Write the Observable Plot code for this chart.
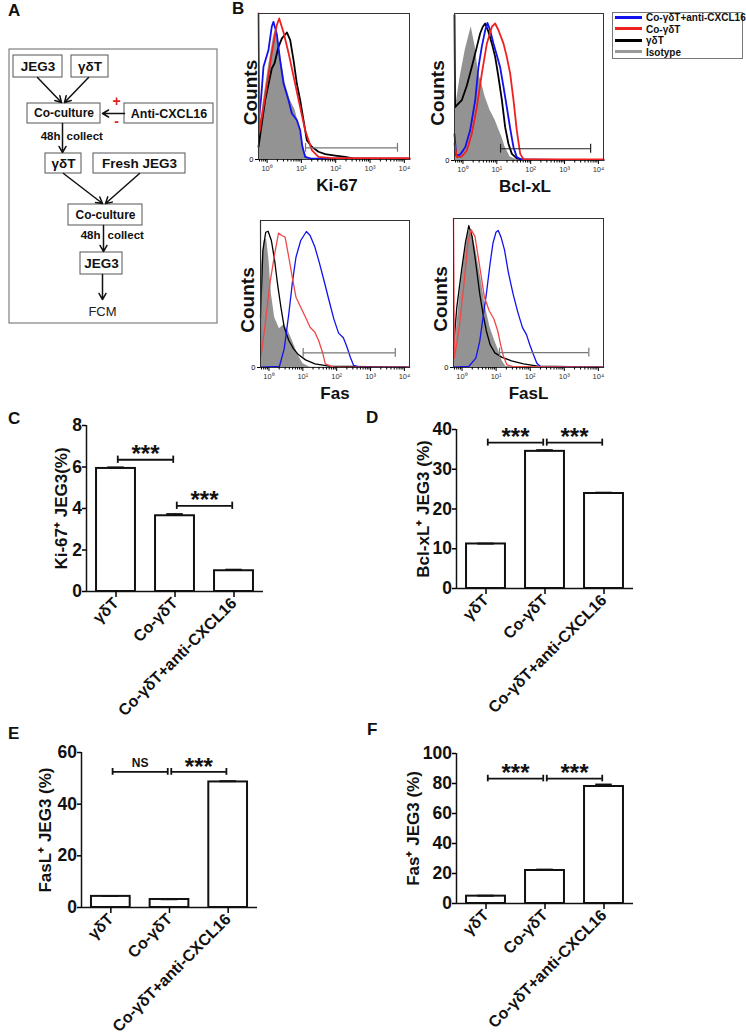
<!DOCTYPE html>
<html><head><meta charset="utf-8">
<script src="https://cdn.jsdelivr.net/npm/d3@7"></script>
<script src="https://cdn.jsdelivr.net/npm/@observablehq/plot@0.6"></script>
<style>
body{margin:0;background:#fff;}
#page{position:relative;width:746px;height:1036px;overflow:hidden;font-family:"Liberation Sans",Arial,sans-serif;background:#fff;}
.panel{position:absolute;}
.letter{position:absolute;font:bold 17px/1 "Liberation Sans",Arial,sans-serif;color:#111;}
#legend{position:absolute;left:612px;top:12px;width:129px;height:45px;border:1px solid #777;background:#fff;}
.lg{position:absolute;left:2px;font:bold 10px/1 "Liberation Sans",Arial,sans-serif;color:#111;white-space:nowrap;}
.sw{display:inline-block;width:27px;height:3px;vertical-align:middle;margin-right:4px;position:relative;top:-1px;}
</style></head>
<body><div id="page"></div>
<script>
const FONT = "Liberation Sans, Arial, sans-serif";
const RED = "#ee2020", RED2 = "#f04848", BLUE = "#1212ee", GRAYF = "#939393";

// ---------- bar chart data ----------
const groups = ["γδT", "Co-γδT", "Co-γδT+anti-CXCL16"];
const ki67Vals = [5.93, 3.65, 1.0],  ki67Err = [0.05, 0.08, 0.05];
const bclVals  = [11.2, 34.5, 23.9], bclErr  = [0.1, 0.3, 0.2];
const faslVals = [4.3, 3.1, 48.6],   faslErr = [0.15, 0.1, 0.3];
const fasVals  = [4.9, 22.0, 78.0],  fasErr  = [0.3, 0.6, 1.3];
const ki67Ticks = [0, 2, 4, 6, 8], bclTicks = [0, 10, 20, 30, 40], faslTicks = [0, 20, 40, 60], fasTicks = [0, 20, 40, 60, 80, 100];
const ki67Comps = [{a: 0, b: 1, y: 6.35, t: "***"}, {a: 1, b: 2, y: 4.13, t: "***"}];
const bclComps  = [{a: 0, b: 1, y: 36.7, t: "***"}, {a: 1, b: 2, y: 36.7, t: "***"}];
const faslComps = [{a: 0, b: 1, y: 52.5, t: "NS"},  {a: 1, b: 2, y: 52.5, t: "***"}];
const fasComps  = [{a: 0, b: 1, y: 83.3, t: "***"}, {a: 1, b: 2, y: 83.3, t: "***"}];

// ---------- flow cytometry histograms: [axis position 0..1, % of max] ----------
const ki67Gray  = [[0,0],[0.004,18],[0.033,40.6],[0.066,63.5],[0.099,84],[0.11,88.6],[0.132,79.5],[0.155,65.8],[0.177,52],[0.21,40.6],[0.243,33.8],[0.265,24.7],[0.287,13.2],[0.309,4.1],[0.331,0.5],[1,0]];
const ki67Black = [[0,8.7],[0.044,40.6],[0.088,62.3],[0.106,65.8],[0.132,77],[0.155,83],[0.188,87],[0.21,81.7],[0.232,68],[0.254,52],[0.276,40.6],[0.298,27],[0.32,13.2],[0.353,8.7],[0.397,5.3],[0.442,3.7],[0.508,2.7],[0.574,1.8],[0.64,0.5],[1,0.2]];
const ki67Blue  = [[0.005,30],[0.018,43],[0.033,63.5],[0.066,75],[0.088,91],[0.099,94.3],[0.121,86],[0.143,68],[0.166,52],[0.199,40.6],[0.221,31.5],[0.254,27],[0.276,20],[0.291,8.7],[0.309,1.8],[0.353,0.5],[1,0.5]];
const ki67Red   = [[0,100],[0.007,19],[0.044,43],[0.088,73],[0.121,92],[0.137,96.6],[0.166,87],[0.199,73],[0.232,57],[0.265,41],[0.309,20],[0.353,6.4],[0.397,1.8],[0.486,0.9],[1,0.9]];

const bclGray  = [[0,0],[0.004,34],[0.038,56.8],[0.072,75],[0.112,91],[0.139,77.3],[0.161,59],[0.183,52.3],[0.206,43.2],[0.239,34],[0.273,27.3],[0.295,21.6],[0.318,16],[0.34,9],[0.374,2.3],[0.418,0.5],[1,0]];
const bclBlack = [[0,98.9],[0.004,36.4],[0.049,41],[0.083,51],[0.116,63.6],[0.15,77.3],[0.172,86.4],[0.19,91],[0.206,93.2],[0.228,87.5],[0.251,79.5],[0.273,70.5],[0.295,56.8],[0.318,41],[0.34,22.7],[0.362,11.4],[0.385,4.5],[0.418,1.4],[0.463,0.5],[1,0.2]];
const bclBlue  = [[0,18],[0.011,3.4],[0.038,4],[0.072,9],[0.105,20.5],[0.139,41],[0.161,63.6],[0.183,77.3],[0.206,88.6],[0.221,93.6],[0.239,88.6],[0.262,79.5],[0.284,71.6],[0.306,63.6],[0.329,50],[0.351,36.4],[0.374,21.6],[0.396,9],[0.418,2.3],[0.452,0.5],[1,0.2]];
const bclRed   = [[0,11.4],[0.016,2.3],[0.049,2.7],[0.083,6.8],[0.116,18.2],[0.15,36.4],[0.183,59],[0.217,79.5],[0.251,91],[0.273,93.2],[0.295,88.6],[0.329,79.5],[0.351,70.5],[0.374,59],[0.396,41],[0.418,20.5],[0.441,4.5],[0.463,0.9],[1,0.7]];

const fasGray  = [[0,0],[0.006,68],[0.025,86.4],[0.041,87.5],[0.057,72.8],[0.073,50],[0.095,34],[0.127,26.3],[0.159,29.3],[0.19,24],[0.222,16.1],[0.254,8.2],[0.286,2.5],[0.333,0.2],[1,0]];
const fasBlack = [[0,34],[0.016,79.6],[0.035,92],[0.051,92.7],[0.073,86.4],[0.095,72.8],[0.114,57],[0.137,41],[0.159,27.4],[0.19,18.4],[0.222,12.7],[0.254,8.8],[0.302,5.2],[0.365,2.5],[0.46,0.9],[1,0.2]];
const fasBlue  = [[0,0.2],[0.127,0.7],[0.159,12.7],[0.19,36.5],[0.213,57],[0.238,75],[0.27,86.4],[0.308,92.5],[0.333,89.8],[0.365,81.9],[0.397,70.5],[0.429,58],[0.46,45.6],[0.492,33.1],[0.524,23.4],[0.556,20.2],[0.581,13.8],[0.603,7],[0.625,1.4],[0.667,0.2],[1,0.2]];
const fasRed   = [[0,100],[0.003,7],[0.032,29.7],[0.063,57],[0.095,77.3],[0.121,91.4],[0.143,89.8],[0.165,88.7],[0.19,75],[0.213,61.5],[0.238,47.8],[0.27,41],[0.302,34.2],[0.333,27.4],[0.365,24],[0.39,18.4],[0.416,10.4],[0.435,2.5],[0.49,0.2],[1,0.2]];

const faslGray  = [[0,0],[0.01,15.4],[0.038,44.9],[0.07,72.1],[0.098,90.2],[0.117,93],[0.149,78.9],[0.181,60.8],[0.213,40.4],[0.244,26.8],[0.276,17.7],[0.302,10.9],[0.324,4.5],[0.349,0.7],[1,0]];
const faslBlack = [[0,13],[0.022,40.4],[0.054,65.3],[0.079,83.4],[0.102,95.2],[0.124,88],[0.149,69.8],[0.175,49.4],[0.197,35.8],[0.219,24.5],[0.244,15.4],[0.276,9.8],[0.324,6.8],[0.387,4.5],[0.467,2.5],[0.562,0.9],[1,0.2]];
const faslBlue  = [[0,0.2],[0.102,0.7],[0.149,6.3],[0.175,17.7],[0.197,33.6],[0.219,49.4],[0.244,69.8],[0.263,83.4],[0.283,90.7],[0.298,92],[0.317,87.5],[0.34,78.9],[0.365,64.2],[0.397,49.4],[0.429,37],[0.46,26.8],[0.486,22.2],[0.508,15.4],[0.533,8.6],[0.556,2.9],[0.581,0.5],[1,0.2]];
const faslRed   = [[0,100],[0.006,6.3],[0.038,26.8],[0.07,56.2],[0.095,83.4],[0.117,92.5],[0.143,88],[0.175,67.6],[0.206,47.2],[0.238,38.1],[0.27,32.4],[0.295,24.5],[0.314,15.4],[0.333,7.5],[0.356,1.8],[0.403,0.5],[1,0.2]];

// gate markers: [from decade, to decade, height %]
const ki67Gate = [1.12, 3.80, 8], bclGate = [1.11, 3.77, 8], fasGate = [1.01, 3.73, 10], faslGate = [1.10, 3.72, 10];
const decadeTicks = [0, 1, 2, 3, 4];
const legendLabels = ["Co-γδT+anti-CXCL16", "Co-γδT", "γδT", "Isotype"];

// ---------- flow chart ----------
const flowBoxes = ["JEG3", "γδT", "Co-culture", "Anti-CXCL16", "γδT", "Fresh JEG3", "Co-culture", "JEG3"];
const flowBoxLayout = [[13,62,55,77],[71,108,55,77],[27,100,103,123],[124,213,103,123],[45,81,153,173],[93,185,153,173],[68,142,204,225],[80,122,252,274]];
const flowBoxFont = [13.5, 13.5, 12, 12.5, 13.5, 13.5, 12, 13.5];
const flowArrowLayout = [[37,77,61,102],[88,77,64,102],[124,113,102,113],[62,123,62,152],[63,173,102,203],[139,173,105,203],[103,225,103,251],[102,274,102,299]];
const flowTimeNotes = ["48h", "48h"], flowTimeLayout = [[60,136],[100,235]];
const flowCollectNotes = ["collect", "collect"], flowCollectLayout = [[66,136],[107,235]];
const flowSigns = ["+", "-"], flowSignLayout = [[116,101],[116,121]];
const flowEnd = "FCM", flowEndLayout = [102, 311];

// ================= drawing =================
const page = document.getElementById("page");
function place(el, left, top) { const d = document.createElement("div"); d.className = "panel"; d.style.left = left + "px"; d.style.top = top + "px"; d.appendChild(el); page.appendChild(d); }
function letter(t, left, top) { const d = document.createElement("div"); d.className = "letter"; d.textContent = t; d.style.left = left + "px"; d.style.top = top + "px"; page.appendChild(d); }

// Flow chart
const boxes = flowBoxes.map((t, i) => ({t, x1: flowBoxLayout[i][0], x2: flowBoxLayout[i][1], y1: flowBoxLayout[i][2], y2: flowBoxLayout[i][3], fs: flowBoxFont[i]}));
const arrows = flowArrowLayout.map(a => ({x1: a[0], y1: a[1], x2: a[2], y2: a[3]}));
const times = flowTimeNotes.map((t, i) => ({t, x: flowTimeLayout[i][0], y: flowTimeLayout[i][1]}));
const collects = flowCollectNotes.map((t, i) => ({t, x: flowCollectLayout[i][0], y: flowCollectLayout[i][1]}));
const signs = flowSigns.map((t, i) => ({t, x: flowSignLayout[i][0], y: flowSignLayout[i][1]}));
const flow = Plot.plot({
  width: 225, height: 330, margin: 0,
  style: {fontFamily: FONT, background: "transparent"},
  x: {domain: [0, 225], range: [0, 225], axis: null},
  y: {domain: [0, 330], range: [0, 330], axis: null},
  marks: [
    Plot.rect([0], {x1: 9, x2: 217, y1: 49, y2: 323, fill: "none", stroke: "#666", strokeWidth: 1}),
    Plot.rect(boxes, {x1: "x1", x2: "x2", y1: "y1", y2: "y2", fill: "white", stroke: "#555", strokeWidth: 1}),
    Plot.text(boxes, {x: d => (d.x1 + d.x2) / 2, y: d => (d.y1 + d.y2) / 2, text: "t", fontSize: d => d.fs, fontWeight: "bold", fill: "#111"}),
    Plot.arrow(arrows, {x1: "x1", y1: "y1", x2: "x2", y2: "y2", stroke: "#111", strokeWidth: 1.5, headLength: 7, bend: 0}),
    Plot.text(times, {x: "x", y: "y", text: "t", textAnchor: "end", fontSize: 11.5, fontWeight: "bold", fill: "#111"}),
    Plot.text(collects, {x: "x", y: "y", text: "t", textAnchor: "start", fontSize: 11.5, fontWeight: "bold", fill: "#111"}),
    Plot.text(signs, {x: "x", y: "y", text: "t", fontSize: 14, fontWeight: "bold", fill: "#e0201c"}),
    Plot.text([flowEnd], {x: flowEndLayout[0], y: flowEndLayout[1], text: d => d, fontSize: 13, fill: "#222"})
  ]
});
place(flow, 0, 0);

// Histograms
const dec = p => -0.25 + p * 4.4;
const sup = {0: "⁰", 1: "¹", 2: "²", 3: "³", 4: "⁴"};
const minorTicks = [];
for (let k = -1; k < 4; k++) for (let m = 2; m <= 9; m++) { const v = k + Math.log10(m); if (v > -0.25 && v < 4.15) minorTicks.push(v); }
function histo(h) {
  const X = d => dec(d[0]), Y = d => d[1];
  return Plot.plot({
    width: 195, height: 200, marginLeft: h.ml, marginRight: h.mr, marginTop: h.mt, marginBottom: h.mb,
    style: {fontFamily: FONT, background: "transparent", overflow: "visible"},
    x: {domain: [-0.25, 4.15]},
    y: {domain: [0, 100]},
    marks: [
      Plot.areaY(h.gray, {x: X, y: Y, fill: GRAYF}),
      Plot.line(h.black, {x: X, y: Y, stroke: "#000", strokeWidth: h.lw}),
      Plot.line(h.blue, {x: X, y: Y, stroke: BLUE, strokeWidth: h.lw}),
      Plot.line(h.red, {x: X, y: Y, stroke: h.red2 ? RED2 : RED, strokeWidth: h.lw}),
      Plot.frame({stroke: "#333", strokeWidth: 1}),
      Plot.ruleY([h.gate], {x1: d => d[0], x2: d => d[1], y: d => d[2], stroke: h.gateColor, strokeWidth: 1.2}),
      Plot.ruleX([h.gate[0], h.gate[1]], {x: d => d, y1: h.gate[2] - 3, y2: h.gate[2] + 3, stroke: h.gateColor, strokeWidth: 1.2}),
      Plot.axisX({ticks: decadeTicks, tickFormat: d => "10" + sup[d], tickSize: 4, tickPadding: 2, fontSize: 7.5, label: null, fill: "#333"}),
      Plot.axisX({ticks: minorTicks, tickFormat: () => "", tickSize: 2.5, label: null}),
      Plot.axisY({ticks: [0], tickFormat: () => "0", tickSize: 3, tickPadding: 2, fontSize: 7.5, label: null}),
      Plot.text(["Counts"], {frameAnchor: "left", textAnchor: "middle", dx: h.cdx, dy: 6, rotate: -90, fontSize: 19, fontWeight: "bold", fill: "#111"}),
      Plot.text([h.label], {frameAnchor: "bottom", textAnchor: "middle", dy: 31, dx: h.ldx || 0, fontSize: 17, fontWeight: "bold", fill: "#111"})
    ]
  });
}
place(histo({gray: ki67Gray, black: ki67Black, blue: ki67Blue, red: ki67Red, gate: ki67Gate, gateColor: "#777", label: "Ki-67", lw: 1.8, ml: 33, mr: 11, mt: 13, mb: 41, cdx: -8, ldx: 3}), 225, 0);
place(histo({gray: bclGray, black: bclBlack, blue: bclBlue, red: bclRed, gate: bclGate, gateColor: "#222", label: "Bcl-xL", lw: 1.8, ml: 34, mr: 12, mt: 13, mb: 40, cdx: -17, ldx: -4}), 420, 0);
place(histo({gray: fasGray, black: fasBlack, blue: fasBlue, red: fasRed, red2: true, gate: fasGate, gateColor: "#777", label: "Fas", lw: 1.3, ml: 35, mr: 11, mt: 15, mb: 38, cdx: -13}), 225, 205);
place(histo({gray: faslGray, black: faslBlack, blue: faslBlue, red: faslRed, red2: true, gate: faslGate, gateColor: "#777", label: "FasL", lw: 1.3, ml: 33, mr: 12, mt: 13, mb: 38, cdx: -13}), 420, 205);

// Legend
const legColors = [BLUE, RED, "#000", "#999"];
const leg = document.createElement("div"); leg.id = "legend";
legendLabels.forEach((t, i) => {
  const r = document.createElement("div"); r.className = "lg"; r.style.top = (0 + i * 11.5) + "px";
  const s = document.createElement("span"); s.className = "sw"; s.style.background = legColors[i];
  r.appendChild(s); r.appendChild(document.createTextNode(t)); leg.appendChild(r);
});
page.appendChild(leg);

// Bar charts
function bars(b) {
  const idx = [0, 1, 2];
  const h = b.yMax * 0.022;
  const caps = b.comps.flatMap(c => [{x: c.a + 0.53, y: c.y}, {x: c.b + 0.47, y: c.y}]);
  return Plot.plot({
    width: 280, height: b.H, marginLeft: b.ml, marginRight: b.mr, marginTop: b.mt, marginBottom: b.mb,
    style: {fontFamily: FONT, background: "transparent", overflow: "visible"},
    x: {domain: [0, 3]},
    y: {domain: [0, b.yMax]},
    marks: [
      Plot.rect(idx, {x1: i => i + 0.17, x2: i => i + 0.83, y1: 0, y2: i => b.vals[i], fill: "white", stroke: "#111", strokeWidth: 2}),
      Plot.ruleX(idx, {x: i => i + 0.5, y1: i => b.vals[i], y2: i => b.vals[i] + b.errs[i], stroke: "#111", strokeWidth: 2}),
      Plot.ruleY(idx, {x1: i => i + 0.36, x2: i => i + 0.64, y: i => b.vals[i] + b.errs[i], stroke: "#111", strokeWidth: 2}),
      Plot.ruleX([0], {stroke: "#111", strokeWidth: 1.5}),
      Plot.ruleY([0], {stroke: "#111", strokeWidth: 1.5}),
      Plot.axisY({ticks: b.ticks, tickSize: 4, tickPadding: 0.5, fontSize: 17.5, fontWeight: "bold", label: null, strokeWidth: 1.5, fill: "#111"}),
      Plot.axisX({ticks: [0.5, 1.5, 2.5], tickFormat: d => groups[Math.floor(d)], tickRotate: -45, tickSize: 6, tickPadding: 3, fontSize: 16, fontWeight: "bold", label: null, strokeWidth: 1.5, fill: "#111"}),
      Plot.ruleY(b.comps, {x1: d => d.a + 0.53, x2: d => d.b + 0.47, y: "y", stroke: "#111", strokeWidth: 1.8}),
      Plot.ruleX(caps, {x: "x", y1: d => d.y - h, y2: d => d.y + h, stroke: "#111", strokeWidth: 1.8}),
      Plot.text(b.comps.filter(d => d.t === "***"), {x: d => (d.a + d.b + 1) / 2, y: "y", text: "t", dy: -5, fontSize: 24, fontWeight: "bold", fill: "#111"}),
      Plot.text(b.comps.filter(d => d.t === "NS"), {x: d => (d.a + d.b + 1) / 2, y: "y", text: "t", dy: -9, fontSize: 12, fontWeight: "bold", fill: "#111"}),
      Plot.text([b.ylabel], {frameAnchor: "left", textAnchor: "middle", dx: b.ldx, rotate: -90, fontSize: 17, fontWeight: "bold", fill: "#111"})
    ]
  });
}
place(bars({vals: ki67Vals, errs: ki67Err, yMax: 8, ticks: ki67Ticks, comps: ki67Comps, ylabel: "Ki-67⁺ JEG3(%)", ldx: -25, H: 335, ml: 86, mr: 17, mt: 25, mb: 144}), 0, 400);
place(bars({vals: bclVals, errs: bclErr, yMax: 40, ticks: bclTicks, comps: bclComps, ylabel: "Bcl-xL⁺ JEG3 (%)", ldx: -33, H: 335, ml: 86, mr: 17, mt: 29, mb: 147}), 370, 400);
place(bars({vals: faslVals, errs: faslErr, yMax: 60, ticks: faslTicks, comps: faslComps, ylabel: "FasL⁺ JEG3 (%)", ldx: -36, H: 306, ml: 81, mr: 23, mt: 22, mb: 129}), 0, 730);
place(bars({vals: fasVals, errs: fasErr, yMax: 100, ticks: fasTicks, comps: fasComps, ylabel: "Fas⁺ JEG3 (%)", ldx: -43, H: 306, ml: 86, mr: 17, mt: 23, mb: 133}), 370, 730);

letter("A", 8, 2); letter("B", 232, 0);
letter("C", 8, 410); letter("D", 366, 409);
letter("E", 8, 725); letter("F", 367, 721);
</script></body></html>
